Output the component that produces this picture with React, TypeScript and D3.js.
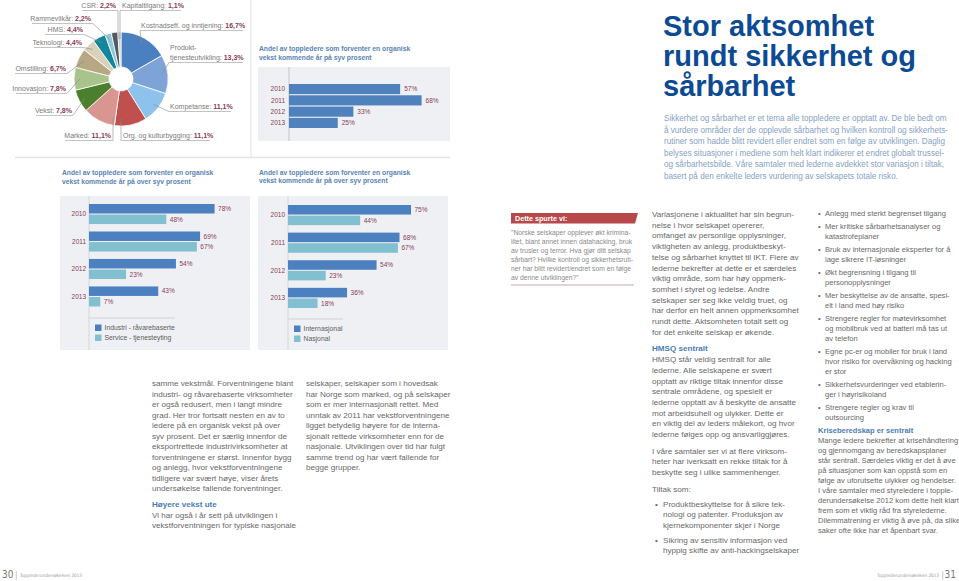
import React from 'react';
import * as d3 from 'd3';

// ---------- DATA ----------
const pieLabels = ['Kostnadseff. og inntjening', 'Produkt-|tjenesteutvikling', 'Kompetanse', 'Org. og kulturbygging', 'Marked', 'Vekst', 'Innovasjon', 'Omstilling', 'Teknologi', 'HMS', 'Rammevilkår', 'CSR', 'Kapitaltilgang'];
const pieValues = [16.7, 13.3, 11.1, 11.1, 11.1, 7.8, 7.8, 6.7, 4.4, 4.4, 2.2, 2.2, 1.1];
const pieColors = ['#4a7fc0', '#7ea3d6', '#8cc2ec', '#c0504d', '#d9958f', '#4b7f2d', '#a8c38c', '#b7a783', '#dad1bb', '#13869c', '#8ec8d8', '#515963', '#c7ccd1'];

const years = ['2010', '2011', '2012', '2013'];
const sevenPct = [57, 68, 33, 25];
const industri = [78, 69, 54, 43];
const service = [48, 67, 23, 7];
const internasjonal = [75, 68, 54, 36];
const nasjonal = [44, 67, 23, 18];
const seriesLeft = ['Industri - råvarebaserte', 'Service - tjenesteyting'];
const seriesRight = ['Internasjonal', 'Nasjonal'];

const titleLines = ['Stor aktsomhet', 'rundt sikkerhet og', 'sårbarhet'];
const introLines = [
  'Sikkerhet og sårbarhet er et tema alle toppledere er opptatt av. De ble bedt om',
  'å vurdere områder der de opplevde sårbarhet og hvilken kontroll og sikkerhets-',
  'rutiner som hadde blitt revidert eller endret som en følge av utviklingen. Daglig',
  'belyses situasjoner i mediene som helt klart indikerer et endret globalt trussel-',
  'og sårbarhetsbilde. Våre samtaler med lederne avdekket stor variasjon i tiltak,',
  'basert på den enkelte leders vurdering av selskapets totale risko.',
];
const chartTitle7 = ['Andel av toppledere som forventer en organisk', 'vekst kommende år på syv prosent'];
const chartTitleOver7 = ['Andel av toppledere som forventer en organisk', 'vekst kommende år på over syv prosent'];

const colA = [
  { t: 'p', lines: ['samme vekstmål. Forventningene blant', 'industri- og råvarebaserte virksomheter', 'er også redusert, men i langt mindre', 'grad. Her tror fortsatt nesten en av to', 'ledere på en organisk vekst på over', 'syv prosent. Det er særlig innenfor de', 'eksportrettede industrivirksomheter at', 'forventningene er størst. Innenfor bygg', 'og anlegg, hvor vekstforventningene', 'tidligere var svært høye, viser årets', 'undersøkelse fallende forventninger.'] },
  { t: 'h', lines: ['Høyere vekst ute'] },
  { t: 'p', lines: ['Vi har også i år sett på utviklingen i', 'vekstforventningen for typiske nasjonale'] },
];
const colB = [
  { t: 'p', lines: ['selskaper, selskaper som i hovedsak', 'har Norge som marked, og på selskaper', 'som er mer internasjonalt rettet. Med', 'unntak av 2011 har vekstforventningene', 'ligget betydelig høyere for de interna-', 'sjonalt rettede virksomheter enn for de', 'nasjonale. Utviklingen over tid har fulgt', 'samme trend og har vært fallende for', 'begge grupper.'] },
];
const quoteLines = [
  '"Norske selskaper opplever økt krimina-',
  'litet, blant annet innen datahacking, bruk',
  'av trusler og terror. Hva gjør ditt selskap',
  'sårbart? Hvilke kontroll og sikkerhetsruti-',
  'ner har blitt revidert/endret som en følge',
  'av denne utviklingen?"',
];
const colC = [
  { t: 'p', lines: ['Variasjonene i aktualitet har sin begrun-', 'nelse i hvor selskapet opererer,', 'omfanget av personlige opplysninger,', 'viktigheten av anlegg, produktbeskyt-', 'telse og sårbarhet knyttet til IKT. Flere av', 'lederne bekrefter at dette er et særdeles', 'viktig område, som har høy oppmerk-', 'somhet i styret og ledelse. Andre', 'selskaper ser seg ikke veldig truet, og', 'har derfor en helt annen oppmerksomhet', 'rundt dette. Aktsomheten totalt sett og', 'for det enkelte selskap er økende.'] },
  { t: 'h', lines: ['HMSQ sentralt'] },
  { t: 'p', lines: ['HMSQ står veldig sentralt for alle', 'lederne. Alle selskapene er svært', 'opptatt av riktige tiltak innenfor disse', 'sentrale områdene, og spesielt er', 'lederne opptatt av å beskytte de ansatte', 'mot arbeidsuhell og ulykker. Dette er', 'en viktig del av leders målekort, og hvor', 'lederne følges opp og ansvarliggjøres.'] },
  { t: 'g', lines: ['I våre samtaler ser vi at flere virksom-', 'heter har iverksatt en rekke tiltak for å', 'beskytte seg i ulike sammenhenger.'] },
  { t: 'g', lines: ['Tiltak som:'] },
  { t: 'b', lines: ['Produktbeskyttelse for å sikre tek-', 'nologi og patenter. Produksjon av', 'kjernekomponenter skjer i Norge'] },
  { t: 'b', lines: ['Sikring av sensitiv informasjon ved', 'hyppig skifte av anti-hackingselskaper'] },
];
const colD = [
  { t: 'b', lines: ['Anlegg med sterkt begrenset tilgang'] },
  { t: 'b', lines: ['Mer kritiske sårbarhetsanalyser og', 'katastrofeplaner'] },
  { t: 'b', lines: ['Bruk av internasjonale eksperter for å', 'lage sikrere IT-løsninger'] },
  { t: 'b', lines: ['Økt begrensning i tilgang til', 'personopplysninger'] },
  { t: 'b', lines: ['Mer beskyttelse av de ansatte, spesi-', 'elt i land med høy risiko'] },
  { t: 'b', lines: ['Strengere regler for møtevirksomhet', 'og mobilbruk ved at batteri må tas ut', 'av telefon'] },
  { t: 'b', lines: ['Egne pc-er og mobiler for bruk i land', 'hvor risiko for overvåkning og hacking', 'er stor'] },
  { t: 'b', lines: ['Sikkerhetsvurderinger ved etablerin-', 'ger i høyrisikoland'] },
  { t: 'b', lines: ['Strengere regler og krav til', 'outsourcing'] },
  { t: 'h', lines: ['Kriseberedskap er sentralt'] },
  { t: 'p', lines: ['Mange ledere bekrefter at krisehåndtering', 'og gjennomgang av beredskapsplaner', 'står sentralt. Særdeles viktig er det å øve', 'på situasjoner som kan oppstå som en', 'følge av uforutsette ulykker og hendelser.', 'I våre samtaler med styreledere i topple-', 'derundersøkelse 2012 kom dette helt klart', 'frem som et viktig råd fra styrelederne.', 'Dilemmatrening er viktig å øve på, da slike', 'saker ofte ikke har et åpenbart svar.'] },
];

// ---------- LAYOUT (label placement for pie annotations) ----------
const pieLabelLayout = [
  { anchor: 'start', x: 141, y: 28, u1: 140, u2: 243, vertical: false },
  { anchor: 'start', x: 170, y: 50, u1: 169, u2: 243, vertical: false },
  { anchor: 'start', x: 170, y: 109, u1: 169, u2: 231, vertical: false },
  { anchor: 'start', x: 123, y: 138, u1: 121, u2: 210, vertical: true },
  { anchor: 'end', x: 111, y: 138, u1: 65, u2: 113, vertical: true },
  { anchor: 'end', x: 72, y: 113, u1: 36, u2: 73, vertical: false },
  { anchor: 'end', x: 66, y: 91, u1: 16, u2: 67, vertical: false },
  { anchor: 'end', x: 66, y: 71, u1: 15, u2: 67, vertical: false },
  { anchor: 'end', x: 82, y: 45, u1: 34, u2: 83, vertical: false },
  { anchor: 'end', x: 83, y: 32, u1: 45, u2: 84, vertical: false },
  { anchor: 'end', x: 91, y: 21, u1: 32, u2: 93, vertical: false },
  { anchor: 'end', x: 116, y: 8, u1: 82, u2: 118, vertical: true },
  { anchor: 'start', x: 122, y: 8, u1: 120, u2: 181, vertical: true },
];

const FONT = "'Liberation Sans', Arial, Helvetica, sans-serif";
const BODY = '#686868';
const MAROON = '#8a3d55';
const HEAD = '#4d7db5';
const fmtPct = (v: number) => v.toFixed(1).replace('.', ',') + '%';

function layoutBlocks(blocks: any[], y0: number, lh: number, gap: number, bgap: number) {
  const out: any[] = [];
  let y = y0;
  blocks.forEach((b, i) => {
    if (i > 0) {
      const prev = blocks[i - 1];
      if (b.t === 'b' && (prev.t === 'b' || prev.t === 'g')) y += bgap;
      else if (b.t === 'h' && prev.t === 'b') y += bgap;
      else if (b.t === 'p' && prev.t === 'h') y += 0;
      else y += gap;
    }
    b.lines.forEach((ln: string, j: number) => {
      out.push({ text: ln, y, type: b.t, first: j === 0 });
      y += lh;
    });
  });
  return out;
}

function Column({ x, y0, lh, gap, bgap, blocks, size, bx, tx }: any) {
  const rows = layoutBlocks(blocks, y0, lh, gap, bgap);
  return (
    <g fontSize={size}>
      {rows.map((r, i) => (
        <g key={i}>
          {r.type === 'b' && r.first && <text x={x + bx} y={r.y} fill={BODY}>•</text>}
          <text
            x={r.type === 'b' ? x + tx : x}
            y={r.y}
            fill={r.type === 'h' ? HEAD : BODY}
            fontWeight={r.type === 'h' ? 'bold' : 'normal'}
          >{r.text}</text>
        </g>
      ))}
    </g>
  );
}

function PieChart() {
  const cx = 121, cy = 79, rO = 47, rI = 12;
  const arcs = d3.pie<number>().sort(null).value(d => d)(pieValues);
  const arcGen = d3.arc<d3.PieArcDatum<number>>().innerRadius(rI).outerRadius(rO);
  const leaderArc = d3.arc<d3.PieArcDatum<number>>().innerRadius(41).outerRadius(41);
  return (
    <g>
      <g transform={`translate(${cx},${cy})`}>
        {arcs.map((a, i) => (
          <path key={i} d={arcGen(a) || ''} fill={pieColors[i]} stroke="#fff" strokeWidth={0.8} />
        ))}
      </g>
      {arcs.map((a, i) => {
        const L = pieLabelLayout[i];
        const parts = pieLabels[i].split('|');
        const lastY = L.y + (parts.length - 1) * 10;
        const uy = lastY + 2.5;
        const sx = L.anchor === 'start' ? L.u1 : L.u2;
        let ex: number, ey: number;
        if (L.vertical) {
          const r = 40;
          ex = sx;
          const dx = ex - cx;
          const dy = Math.sqrt(Math.max(0, r * r - dx * dx));
          ey = uy < cy ? cy - dy : cy + dy;
        } else {
          const c = leaderArc.centroid(a);
          ex = cx + c[0];
          ey = cy + c[1];
        }
        return (
          <g key={'l' + i} fontSize={7}>
            <line x1={L.u1} x2={L.u2} y1={uy} y2={uy} stroke="#9a9a9a" strokeWidth={0.6} />
            <line x1={sx} y1={uy} x2={ex} y2={ey} stroke="#8a8a8a" strokeWidth={0.6} />
            {parts.map((p, j) => (
              <text key={j} x={L.x} y={L.y + j * 10} textAnchor={L.anchor as any} fill="#7a7a7a">
                {j === parts.length - 1 ? (
                  <>
                    {p}: <tspan fontWeight="bold" fill={MAROON}>{fmtPct(pieValues[i])}</tspan>
                  </>
                ) : p}
              </text>
            ))}
          </g>
        );
      })}
    </g>
  );
}

function SingleBars() {
  const x0 = 289;
  const xs = d3.scaleLinear().domain([0, 100]).range([0, 195]);
  const ys = d3.scaleBand<string>().domain(years).range([84, 128]).paddingInner(0.1);
  return (
    <g>
      <rect x={258} y={67} width={192} height={74} fill="#eef0f3" />
      <line x1={x0} x2={x0} y1={67} y2={141} stroke="#c9ccd0" strokeWidth={1.2} />
      {years.map((yr, i) => (
        <g key={yr} fontSize={6.5}>
          <rect x={x0} y={ys(yr)!} width={xs(sevenPct[i])} height={ys.bandwidth()} fill="#4f81bd" />
          <text x={x0 - 4} y={ys(yr)! + ys.bandwidth() / 2 + 2.3} textAnchor="end" fill={MAROON}>{yr}</text>
          <text x={x0 + xs(sevenPct[i]) + 4} y={ys(yr)! + ys.bandwidth() / 2 + 2.3} fill={MAROON}>{sevenPct[i]}%</text>
        </g>
      ))}
    </g>
  );
}

function GroupBars({ px, x0, maxW, y0, y1, a, b, names, legendY, legendLineEnd }: any) {
  const xs = d3.scaleLinear().domain([0, 100]).range([0, maxW]);
  const yg = d3.scaleBand<string>().domain(years).range([y0, y1]).paddingInner(0.27);
  const sub = d3.scaleBand<string>().domain(['a', 'b']).range([0, yg.bandwidth()]).paddingInner(0.1);
  const cols = ['#4d80c0', '#82c0d1'];
  return (
    <g>
      <rect x={px} y={196} width={190} height={154} fill="#eef0f3" />
      <line x1={x0} x2={x0} y1={196} y2={350} stroke="#d3d6da" strokeWidth={1} />
      {years.map((yr, i) => (
        <g key={yr} fontSize={6.5}>
          <text x={x0 - 3} y={yg(yr)! + yg.bandwidth() / 2 + 2.3} textAnchor="end" fill={MAROON}>{yr}</text>
          {[a[i], b[i]].map((v: number, k: number) => {
            const key = k === 0 ? 'a' : 'b';
            const yy = yg(yr)! + sub(key)!;
            return (
              <g key={k}>
                <rect x={x0} y={yy} width={xs(v)} height={sub.bandwidth()} fill={cols[k]} />
                <text x={x0 + xs(v) + 3.5} y={yy + sub.bandwidth() / 2 + 2.3} fill={MAROON}>{v}%</text>
              </g>
            );
          })}
        </g>
      ))}
      <line x1={x0} x2={legendLineEnd} y1={legendY} y2={legendY} stroke="#d0d3d7" strokeWidth={1} />
      {names.map((n: string, k: number) => (
        <g key={n}>
          <rect x={x0 + 6} y={legendY + 6.5 + k * 10} width={6.5} height={6.5} fill={cols[k]} />
          <text x={x0 + 15.5} y={legendY + 12 + k * 10} fontSize={6.8} fill="#5d5d5d">{n}</text>
        </g>
      ))}
    </g>
  );
}

export default function App() {
  const W = 959, H = 581;
  return (
    <svg width={W} height={H} viewBox={`0 0 ${W} ${H}`} style={{ position: 'absolute', left: 0, top: 0, display: 'block' }} fontFamily={FONT}>
      <rect width={W} height={H} fill="#ffffff" />

      {/* separators */}
      <line x1={15} x2={450} y1={157.5} y2={157.5} stroke="#e3e4e6" strokeWidth={1.5} />
      <line x1={251} x2={251} y1={0} y2={157} stroke="#e3e4e6" strokeWidth={1.2} />

      <PieChart />

      {/* chart titles */}
      <g fontSize={6.75} fontWeight="bold" fill="#5884b5">
        {chartTitle7.map((t, i) => <text key={'a' + i} x={259} y={51 + i * 8.6}>{t}</text>)}
        {chartTitleOver7.map((t, i) => <text key={'b' + i} x={62} y={175 + i * 8.8}>{t}</text>)}
        {chartTitleOver7.map((t, i) => <text key={'c' + i} x={259} y={174.5 + i * 8.8}>{t}</text>)}
      </g>

      <SingleBars />
      <GroupBars px={60} x0={89} maxW={161} y0={204} y1={306.5} a={industri} b={service} names={seriesLeft} legendY={318} legendLineEnd={175} />
      <GroupBars px={258} x0={288} maxW={164} y0={205} y1={308} a={internasjonal} b={nasjonal} names={seriesRight} legendY={319} legendLineEnd={343} />

      {/* Headline */}
      <g fontSize={29} fontWeight="bold" fill="#0c4b93">
        {titleLines.map((t, i) => <text key={i} x={663} y={35.5 + i * 30.2}>{t}</text>)}
      </g>
      <g fontSize={8.15} fill="#86a2c3">
        {introLines.map((t, i) => <text key={i} x={664} y={121 + i * 11.6}>{t}</text>)}
      </g>

      {/* body columns */}
      <Column x={152} y0={386} lh={10.5} gap={5.5} bgap={4} blocks={colA} size={8.1} bx={0} tx={7} />
      <Column x={306} y0={386} lh={10.5} gap={5.5} bgap={4} blocks={colB} size={8.1} bx={0} tx={7} />
      <Column x={652} y0={217} lh={10.7} gap={6} bgap={4} blocks={colC} size={8.1} bx={3} tx={11} />
      <Column x={818} y0={216} lh={10} gap={3} bgap={3} blocks={colD} size={7.55} bx={0} tx={7} />

      {/* Dette spurte vi */}
      <polygon points="511,213 638,213 635,223.5 511,223.5" fill="#b8494b" />
      <text x={515} y={221} fontSize={7.2} fontWeight="bold" fill="#fff">Dette spurte vi:</text>
      <g fontSize={6.75} fill="#8a8a8a">
        {quoteLines.map((t, i) => <text key={i} x={511} y={235 + i * 8.9}>{t}</text>)}
      </g>
      <line x1={511} x2={634} y1={285} y2={285} stroke="#c7a8ae" strokeWidth={1.2} />

      {/* footer */}
      <g fill="#777" fontFamily="'DejaVu Sans Condensed', 'Liberation Sans Narrow', sans-serif">
        <text x={2} y={578} fontSize={10}>30</text>
        <text x={15} y={577.5} fontSize={8} fill="#aaa">|</text>
        <text x={20} y={576.5} fontSize={4.6} fill="#999">Topplederundersøkelsen 2013</text>
        <text x={939} y={576.5} fontSize={4.6} fill="#999" textAnchor="end">Topplederundersøkelsen 2013</text>
        <text x={941.5} y={577.5} fontSize={8} fill="#aaa">|</text>
        <text x={956} y={578} fontSize={10} textAnchor="end">31</text>
      </g>
    </svg>
  );
}
